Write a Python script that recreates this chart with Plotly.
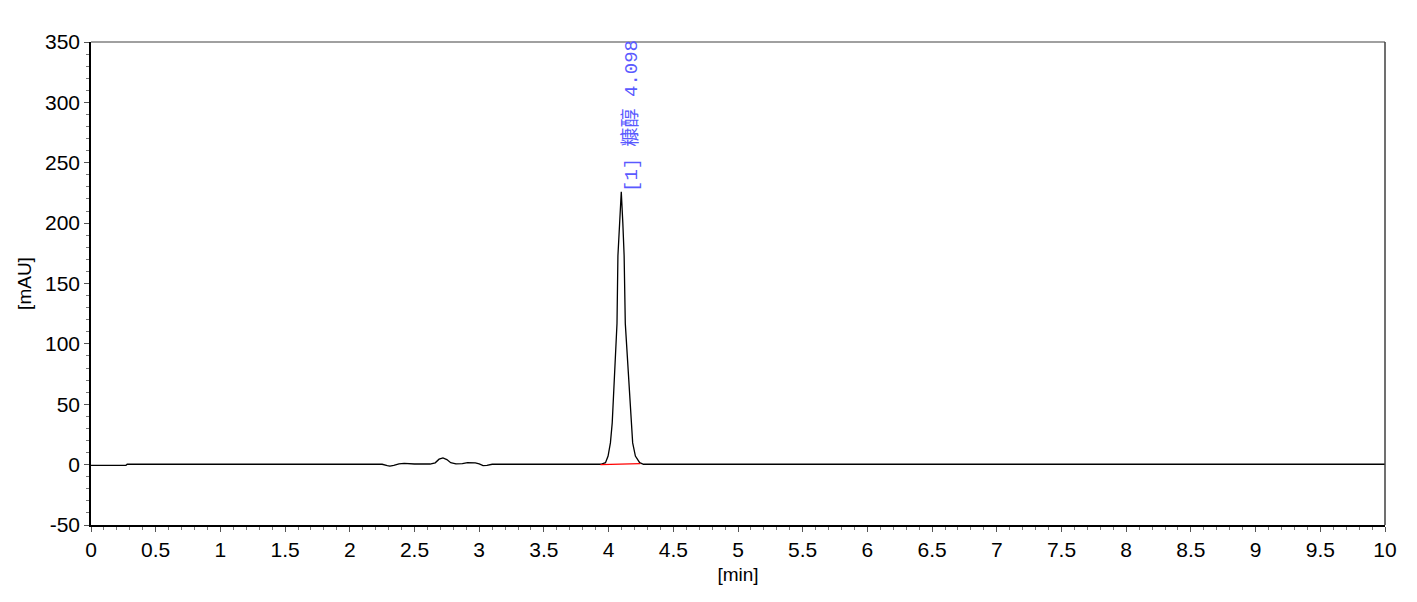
import plotly.graph_objects as go

# Chromatogram trace (time in min, signal in mAU)
time_min = [0.0, 0.27, 0.28, 2.25, 2.29, 2.31, 2.34, 2.38, 2.42, 2.46, 2.50, 2.62,
            2.66, 2.69, 2.72, 2.75, 2.78, 2.82, 2.87, 2.91, 2.97, 3.00, 3.03, 3.06,
            3.10, 3.94, 3.976, 3.996, 4.014, 4.028, 4.04, 4.058, 4.065, 4.072, 4.085,
            4.098, 4.11, 4.12, 4.129, 4.141, 4.157, 4.172, 4.186, 4.207, 4.24, 4.27, 10.0]
signal_mau = [-0.6, -0.6, 0.3, 0.3, -0.8, -1.3, -0.6, 0.6, 1.0, 0.5, 0.5, 0.5,
              1.5, 4.5, 5.6, 4.2, 1.6, 0.6, 0.8, 1.6, 1.5, 0.6, -0.8, -0.7,
              0.3, 0.3, 1.6, 7.1, 18.0, 34.6, 62.0, 95.0, 117.0, 173.0, 205.0,
              226.0, 200.0, 173.0, 117.0, 95.0, 62.0, 34.6, 18.0, 7.1, 1.6, 0.3, 0.3]

# Integration baseline (red)
base_time = [3.937, 4.245]
base_mau = [0.0, 0.8]

# Peak label
peak_time = 4.098
peak_height = 226.0
peak_label = "[1] 糠醇 4.098"

x_ticks = [i * 0.5 for i in range(21)]
x_ticktext = ["0", "0.5", "1", "1.5", "2", "2.5", "3", "3.5", "4", "4.5", "5",
              "5.5", "6", "6.5", "7", "7.5", "8", "8.5", "9", "9.5", "10"]
y_ticks = [-50, 0, 50, 100, 150, 200, 250, 300, 350]
y_ticktext = ["-50", "0", "50", "100", "150", "200", "250", "300", "350"]

fig = go.Figure()
fig.add_trace(go.Scatter(x=time_min, y=signal_mau, mode="lines",
                         line=dict(color="black", width=1.3), showlegend=False,
                         hoverinfo="skip"))
fig.add_trace(go.Scatter(x=base_time, y=base_mau, mode="lines",
                         line=dict(color="red", width=1.3), showlegend=False,
                         hoverinfo="skip"))

fig.add_annotation(x=peak_time, y=peak_height, text=peak_label, textangle=-90,
                   showarrow=False, xanchor="left", yanchor="bottom",
                   xshift=-5, yshift=-2,
                   font=dict(family="Liberation Mono, Noto Sans CJK SC", size=19,
                             color="#5a5aff"))

# top and right frame lines
fig.add_shape(type="line", xref="paper", yref="paper", x0=0, x1=1, y0=1, y1=1,
              line=dict(color="#808080", width=1.5))
fig.add_shape(type="line", xref="paper", yref="paper", x0=1, x1=1, y0=0, y1=1,
              line=dict(color="#404040", width=1.5))

fig.update_layout(
    width=1401, height=586,
    margin=dict(l=83, r=19, t=34, b=63),
    plot_bgcolor="white", paper_bgcolor="white",
    font=dict(family="Liberation Sans, Arial", size=20, color="black"),
    xaxis=dict(range=[0, 10], tickmode="array", tickvals=x_ticks, ticktext=x_ticktext,
               ticks="outside", ticklen=5, tickcolor="#555555", tickwidth=1,
               minor=dict(dtick=0.1, ticks="outside", ticklen=3, tickcolor="#777777"),
               showline=True, linecolor="black", linewidth=1.5, mirror=False,
               showgrid=False, zeroline=False,
               title=dict(text="[min]", standoff=8, font=dict(size=19)),
               tickfont=dict(size=21)),
    yaxis=dict(range=[-50, 350], tickmode="array", tickvals=y_ticks, ticktext=y_ticktext,
               ticks="outside", ticklen=5, tickcolor="#555555", tickwidth=1,
               minor=dict(dtick=10, ticks="outside", ticklen=3, tickcolor="#777777"),
               showline=True, linecolor="black", linewidth=1.5, mirror=False,
               showgrid=False, zeroline=False,
               title=dict(text="[mAU]", standoff=8, font=dict(size=19)),
               tickfont=dict(size=21)),
)

fig.write_html("out.html")
